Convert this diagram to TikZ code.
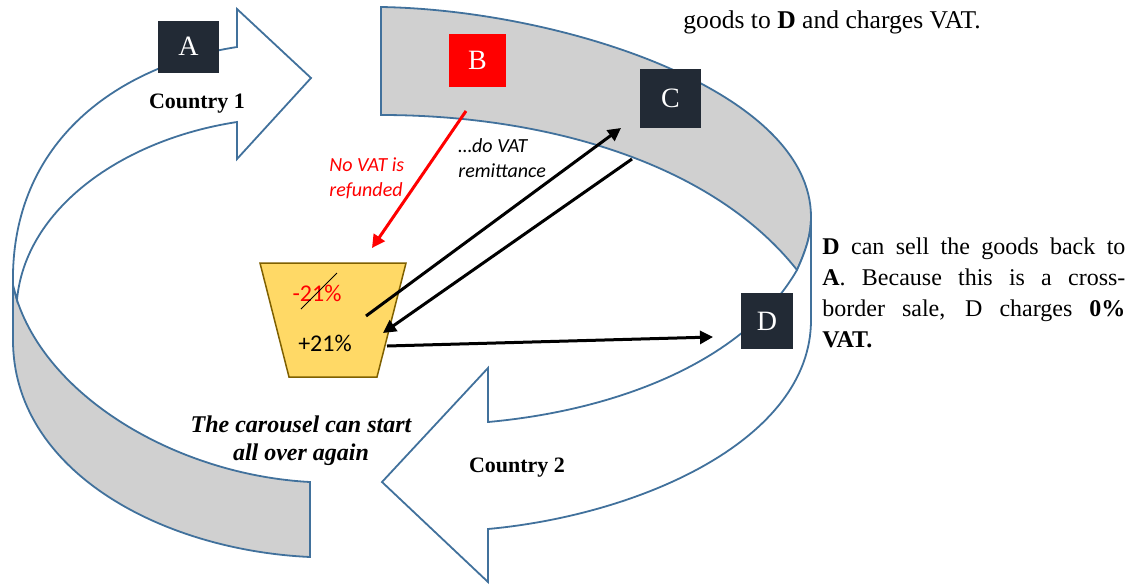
\documentclass[tikz,border=0pt]{standalone}
\usepackage{fontspec}
\setmainfont{Liberation Serif}
\newfontfamily\calibri{Carlito}
\usetikzlibrary{arrows.meta}
\definecolor{rim}{HTML}{41719C}
\definecolor{bandgrey}{HTML}{D0D0D0}
\definecolor{slate}{HTML}{222A35}
\definecolor{bucketfill}{HTML}{FFD966}
\definecolor{bucketedge}{HTML}{7F6000}
\begin{document}
\begin{tikzpicture}[x=0.5pt,y=-0.5pt,
every node/.style={inner sep=0pt},
rimline/.style={%
draw=rim,
line width=0.9pt,
line join=miter
},
backband/.style={%
rimline,
fill=bandgrey
},
arrowbody/.style={%
rimline,
fill=white
},
trader/.style={%
fill=slate,
text=white,
font=\fontsize{14}{16}\selectfont
},
flow/.style={%
line width=1.5pt,
-{Triangle[length=6.5pt,width=6.5pt]}
},
region/.style={%
font=\bfseries\fontsize{11}{13}\selectfont,
anchor=base
},
remark/.style={%
font=\calibri\itshape\fontsize{10}{12.5}\selectfont,
align=left,
anchor=north west
}]
\useasboundingbox (0,0) rectangle (1134,584);
\draw[backband] (13,285) -- (13,340) .. controls (13,470) and (160,550) .. (310,557) -- (310,482) .. controls (180,475) and (50,400) .. (17,300) -- cycle;
\draw[arrowbody] (13,285) .. controls (10,140) and (120,65) .. (237,47) -- (237,9) -- (311,78) -- (237,159) -- (237,122) .. controls (120,140) and (25,210) .. (17,300) -- cycle;
\draw[backband] (381,7) .. controls (560,10) and (811,90) .. (811,217) .. controls (811,235) and (806,250) .. (797,270) .. controls (710,160) and (540,115) .. (381,115) -- cycle;
\draw[arrowbody] (811,217) -- (811,320) .. controls (811,440) and (640,515) .. (488,529) -- (488,582) -- (382,482) -- (488,368) -- (488,422) .. controls (620,410) and (745,360) .. (797,270) .. controls (806,250) and (811,235) .. (811,217) -- cycle;
\draw[fill=bucketfill,draw=bucketedge,line width=0.75pt] (260,263) -- (406,263) -- (377,377) -- (289,377) -- cycle;
\node[font=\calibri\fontsize{12}{14}\selectfont,text=red] (minus) at (317,293) {-21\%};
\draw[line width=0.4pt] (301,309) -- (337,273);
\node[font=\calibri\fontsize{12}{14}\selectfont] (plus) at (325,343) {+21\%};
\node[trader,minimum width=30.5pt,minimum height=26pt] (A) at (188.5,46.5) {A};
\node[trader,fill=red,minimum width=28.5pt,minimum height=26.5pt] (B) at (477.5,60.5) {B};
\node[trader,minimum width=30.5pt,minimum height=29.5pt] (C) at (670.5,98.5) {C};
\node[trader,minimum width=26pt,minimum height=28pt] (D) at (767,321) {D};
\node[region] (country1) at (197,108) {Country 1};
\node[region] (country2) at (517,472) {Country 2};
\node[font=\bfseries\itshape\fontsize{12}{14}\selectfont,align=center,anchor=north] (again) at (301,415) {The carousel can start\\all over again};
\node[remark,text=red] (norefund) at (329,157) {No VAT is\\refunded};
\node[remark] (remit) at (458,138) {\ldots do VAT\\remittance};
\node[font=\fontsize{12.8}{15}\selectfont,anchor=base west] (topnote) at (683,28) {goods to \textbf{D} and charges VAT.};
\node[font=\fontsize{12}{15.5}\selectfont,text width=151.5pt,align=justify,anchor=north west] (resale) at (822,237) {\textbf{D} can sell the goods back to\linebreak \textbf{A}. Because this is a cross-\linebreak border sale, D charges \textbf{0\%}\linebreak \textbf{VAT.}};
\coordinate (refund) at (466,111);
\coordinate (drain) at (372,248);
\draw[flow,red] (refund) -- (drain);
\coordinate (pay) at (366,316);
\coordinate (toC) at (621,128);
\draw[flow] (pay) -- (toC);
\coordinate (fromC) at (632,159);
\coordinate (charge) at (383,333);
\draw[flow] (fromC) -- (charge);
\coordinate (sell) at (387,346);
\coordinate (toD) at (713,337);
\draw[flow] (sell) -- (toD);
\end{tikzpicture}
\end{document}
